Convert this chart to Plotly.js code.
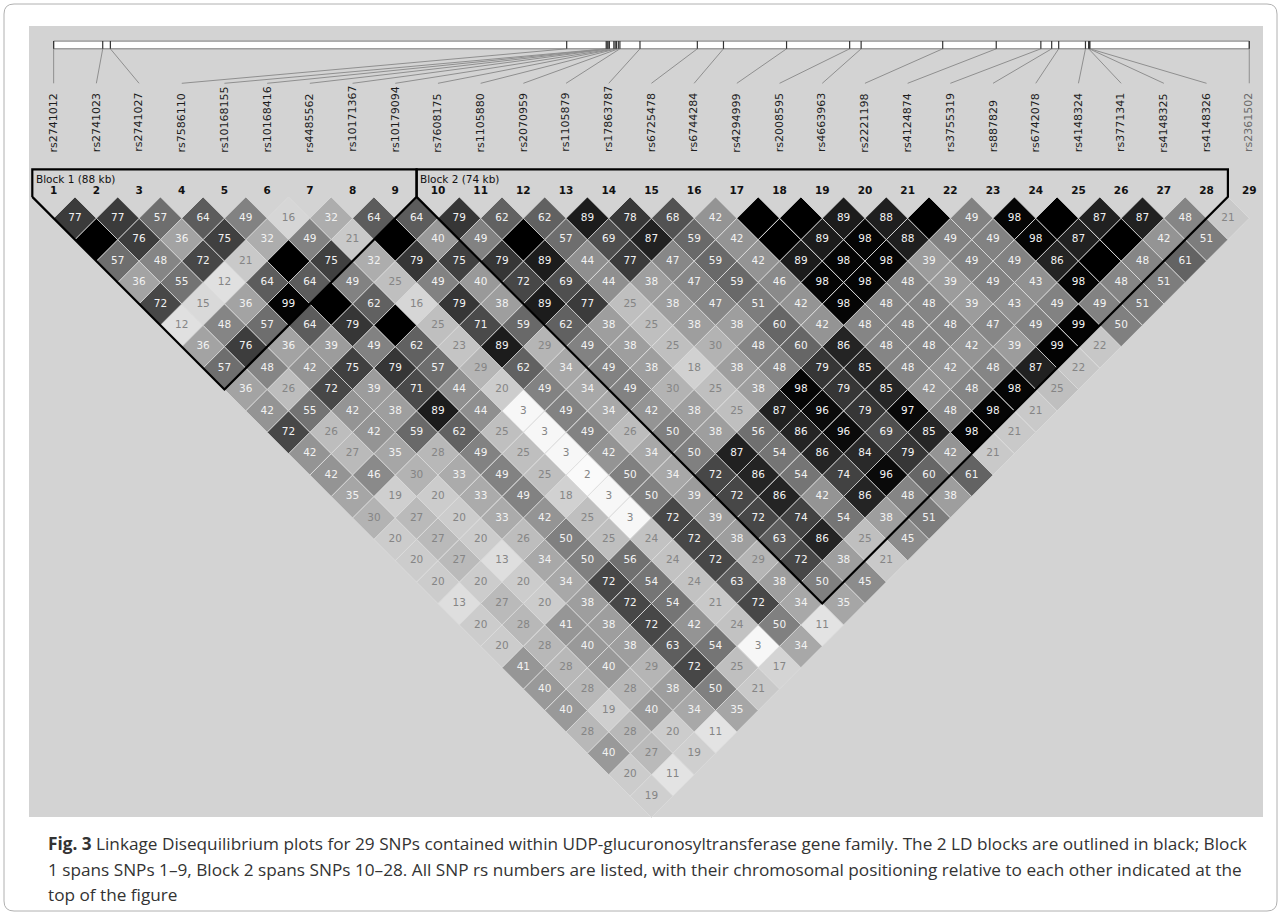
<!DOCTYPE html>
<html><head><meta charset="utf-8">
<script src="https://cdn.plot.ly/plotly-3.0.1.min.js"></script>
<style>html,body{margin:0;padding:0;background:#fff;}#chart{width:1281px;height:915px;}</style>
</head><body><div id="chart"></div>
<script>
// ---------------- DATA ----------------
const snpNames = ["rs2741012","rs2741023","rs2741027","rs7586110","rs10168155","rs10168416","rs4485562",
  "rs10171367","rs10179094","rs7608175","rs1105880","rs2070959","rs1105879","rs17863787","rs6725478",
  "rs6744284","rs4294999","rs2008595","rs4663963","rs2221198","rs4124874","rs3755319","rs887829",
  "rs6742078","rs4148324","rs3771341","rs4148325","rs4148326","rs2361502"];
// relative chromosomal position (kb from first SNP)
const physPosKb = [0.0,7.7,8.9,80.5,86.7,86.85,87.0,87.2,87.9,88.1,88.3,88.6,88.85,92.0,101.0,
  105.1,115.0,124.9,126.7,139.5,147.9,154.9,156.6,157.7,161.9,162.4,162.5,162.6,187.6];
const blockStart = [1, 10];
const blockEnd = [9, 28];
const blockLabels = ["Block 1 (88 kb)", "Block 2 (74 kb)"];
// r² x 100 ; row i holds pairs (i, i+1 ... 29); 100 = black cell, no number
const ldRows = [
  [77,100,57,36,72,12,36,57,36,42,72,42,42,35,30,20,20,20,13,20,20,41,40,40,28,40,20,19],
  [77,76,48,55,15,48,76,48,26,55,26,27,46,19,27,27,27,20,27,28,28,28,28,19,28,27,11],
  [57,36,72,12,36,57,36,42,72,42,42,35,30,20,20,20,13,20,20,41,40,40,28,40,20,19],
  [64,75,21,64,99,64,39,75,39,38,59,28,33,33,33,26,34,34,38,38,38,29,38,34,11],
  [49,32,100,64,100,79,49,79,71,89,62,49,49,49,42,50,50,72,72,72,63,72,50,35],
  [16,49,75,49,62,100,62,57,44,44,25,25,25,18,25,25,56,54,54,42,54,25,21],
  [32,21,32,25,16,25,23,29,20,3,3,3,2,3,3,24,24,24,21,24,3,17],
  [64,100,79,49,79,71,89,62,49,49,49,42,50,50,72,72,72,63,72,50,34],
  [64,40,75,40,38,59,29,34,34,34,26,34,34,39,39,38,29,38,34,11],
  [79,49,79,72,89,62,49,49,49,42,50,50,72,72,72,63,72,50,35],
  [62,100,89,69,77,38,38,38,30,38,38,87,86,86,74,86,38,45],
  [62,57,44,44,25,25,25,18,25,25,56,54,54,42,54,25,21],
  [89,69,77,38,38,38,30,38,38,87,86,86,74,86,38,45],
  [78,87,47,47,47,38,48,48,98,96,96,84,96,48,51],
  [68,59,59,59,51,60,60,79,79,79,69,79,60,38],
  [42,42,42,46,42,42,86,85,85,97,85,42,61],
  [100,100,89,98,98,48,48,48,42,48,98,21],
  [100,89,98,98,48,48,48,42,48,98,21],
  [89,98,98,48,48,48,42,48,98,21],
  [88,88,39,39,39,47,39,87,25],
  [100,49,49,49,43,49,99,22],
  [49,49,49,43,49,99,22],
  [98,98,86,98,49,50],
  [100,87,100,48,51],
  [87,100,48,51],
  [87,42,61],
  [48,51],
  [21]
];
const captionLines = [
  "<b>Fig. 3</b> Linkage Disequilibrium plots for 29 SNPs contained within UDP-glucuronosyltransferase gene family. The 2 LD blocks are outlined in black; Block",
  "1 spans SNPs 1–9, Block 2 spans SNPs 10–28. All SNP rs numbers are listed, with their chromosomal positioning relative to each other indicated at the",
  "top of the figure"
];

// ---------------- LAYOUT CONSTANTS ----------------
const W = 1281, H = 915;
const N = snpNames.length;
const COL_PX = 42.7, ROW_PX = 42.8, X0_PX = 53.65, Y0_PX = 196.9;
const Y_BAR_TOP = -3.64, Y_BAR_BOT = -3.46, Y_LINE_END = -2.654, Y_LABEL_BOTTOM = -1.019;
const Y_BLOCK_TOP = -0.645, Y_BLOCK_LABEL = -0.418, Y_SNPNUM = -0.12;
const FONT = "DejaVu Sans, sans-serif";

function gray(v){ const g = Math.round(255*(1 - v/100)); return `rgb(${g},${g},${g})`; }

const traces = [];

// ---- LD diamonds grouped by value ----
const groups = {};
const txtW = {x:[],y:[],t:[]}, txtG = {x:[],y:[],t:[]};
ldRows.forEach((row, r) => {
  const i = r + 1;
  row.forEach((v, k) => {
    const j = i + 1 + k;
    const cx = (i + j) / 2, cy = (j - i) / 2;
    if (!groups[v]) groups[v] = {x:[], y:[]};
    const g = groups[v];
    g.x.push(cx, cx + 0.5, cx, cx - 0.5, cx, null);
    g.y.push(cy - 0.5, cy, cy + 0.5, cy, cy - 0.5, null);
    if (v < 100) {
      const tgt = v > 30 ? txtW : txtG;
      tgt.x.push(cx); tgt.y.push(cy); tgt.t.push(String(v));
    }
  });
});
Object.keys(groups).map(Number).sort((a,b)=>a-b).forEach(v => {
  traces.push({type:'scatter', mode:'lines', x:groups[v].x, y:groups[v].y, fill:'toself',
    fillcolor: gray(v), line:{color:'rgb(220,220,220)', width:0.8}, hoverinfo:'skip', showlegend:false});
});
traces.push({type:'scatter', mode:'text', x:txtW.x, y:txtW.y, text:txtW.t,
  textfont:{family:FONT, size:10.5, color:'#f2f2f2'}, hoverinfo:'skip', showlegend:false});
traces.push({type:'scatter', mode:'text', x:txtG.x, y:txtG.y, text:txtG.t,
  textfont:{family:FONT, size:10.5, color:'#858585'}, hoverinfo:'skip', showlegend:false});

// ---- block outlines ----
const bx = [], by = [];
blockStart.forEach((a, b) => {
  const e = blockEnd[b];
  bx.push(a - 0.5, a - 0.5, e + 0.5, e + 0.5, (a + e) / 2, a - 0.5, null);
  by.push(0, Y_BLOCK_TOP, Y_BLOCK_TOP, 0, (e - a + 1) / 2, 0, null);
});
traces.push({type:'scatter', mode:'lines', x:bx, y:by, line:{color:'#000', width:2.2},
  hoverinfo:'skip', showlegend:false});

// ---- physical map bar ----
const span = physPosKb[N-1] - physPosKb[0];
const physX = physPosKb.map(p => 1 + (p - physPosKb[0]) / span * (N - 1));
traces.push({type:'scatter', mode:'lines', x:[1, N, N, 1, 1], y:[Y_BAR_TOP, Y_BAR_TOP, Y_BAR_BOT, Y_BAR_BOT, Y_BAR_TOP],
  fill:'toself', fillcolor:'#ffffff', line:{color:'#7a7a7a', width:1}, hoverinfo:'skip', showlegend:false});
const tx = [], ty = [], cxs = [], cys = [];
physX.forEach((px, k) => {
  tx.push(px, px, null); ty.push(Y_BAR_TOP, Y_BAR_BOT, null);
  cxs.push(px, k + 1, null); cys.push(Y_BAR_BOT, Y_LINE_END, null);
});
traces.push({type:'scatter', mode:'lines', x:cxs, y:cys, line:{color:'#8f8f8f', width:1},
  hoverinfo:'skip', showlegend:false});
traces.push({type:'scatter', mode:'lines', x:tx, y:ty, line:{color:'#333', width:1.2},
  hoverinfo:'skip', showlegend:false});

// ---- SNP numbers ----
traces.push({type:'scatter', mode:'text', x:snpNames.map((_, k) => k + 1), y:snpNames.map(() => Y_SNPNUM),
  text:snpNames.map((_, k) => String(k + 1)), textfont:{family:FONT, size:10.5, color:'#111', weight:'bold'},
  hoverinfo:'skip', showlegend:false});

// ---- annotations ----
const annotations = [];
snpNames.forEach((nm, k) => {
  annotations.push({x:k + 1, y:Y_LABEL_BOTTOM, xref:'x', yref:'y', text:nm, textangle:-90, showarrow:false,
    xanchor:'center', yanchor:'bottom', borderpad:0,
    font:{family:FONT, size:11, color: k === N - 1 ? '#6a6a6a' : '#1c1c1c'}});
});
blockStart.forEach((a, b) => {
  annotations.push({x:a - 0.5 + 0.06, y:Y_BLOCK_LABEL, xref:'x', yref:'y', text:blockLabels[b], showarrow:false,
    xanchor:'left', yanchor:'middle', borderpad:0, font:{family:FONT, size:10.5, color:'#111'}});
});
const capY = [843, 869, 894];
captionLines.forEach((t, k) => {
  annotations.push({x:46 / W, y:1 - capY[k] / H, xref:'paper', yref:'paper', text:t, showarrow:false,
    xanchor:'left', yanchor:'middle', align:'left', font:{family:'Open Sans, sans-serif', size:17.2, color:'#333'}});
});

// ---- frame & panel ----
function px(x){ return x / W; } function py(y){ return 1 - y / H; }
const r = 10, fx0 = 4, fy0 = 4, fx1 = 1277, fy1 = 911;
const framePath = `M ${px(fx0 + r)} ${py(fy0)} L ${px(fx1 - r)} ${py(fy0)} Q ${px(fx1)} ${py(fy0)} ${px(fx1)} ${py(fy0 + r)} ` +
  `L ${px(fx1)} ${py(fy1 - r)} Q ${px(fx1)} ${py(fy1)} ${px(fx1 - r)} ${py(fy1)} L ${px(fx0 + r)} ${py(fy1)} ` +
  `Q ${px(fx0)} ${py(fy1)} ${px(fx0)} ${py(fy1 - r)} L ${px(fx0)} ${py(fy0 + r)} Q ${px(fx0)} ${py(fy0)} ${px(fx0 + r)} ${py(fy0)} Z`;
const shapes = [
  {type:'rect', xref:'paper', yref:'paper', x0:px(29), x1:px(1263), y0:py(817), y1:py(26),
    fillcolor:'rgb(211,211,211)', line:{width:0}, layer:'below'},
  {type:'path', xref:'paper', yref:'paper', path:framePath, line:{color:'#b0b0b0', width:1}, layer:'above'}
];

const layout = {
  width: W, height: H, margin:{l:0, r:0, t:0, b:0}, autosize:false,
  paper_bgcolor:'#ffffff', plot_bgcolor:'rgba(0,0,0,0)', showlegend:false,
  xaxis:{range:[1 - X0_PX / COL_PX, 1 + (W - X0_PX) / COL_PX], visible:false, fixedrange:true},
  yaxis:{range:[(H - Y0_PX) / ROW_PX, -Y0_PX / ROW_PX], visible:false, fixedrange:true},
  annotations, shapes
};
Plotly.newPlot('chart', traces, layout, {staticPlot:true, displayModeBar:false});
</script></body></html>
